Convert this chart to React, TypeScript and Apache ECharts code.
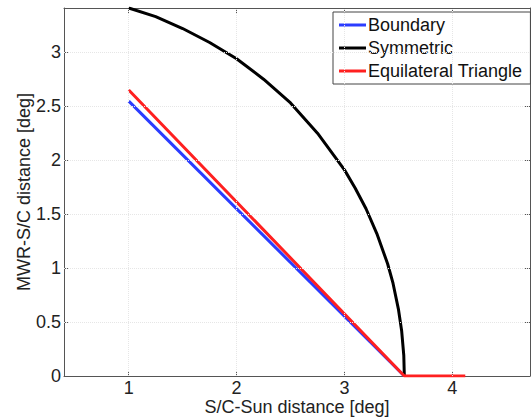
import React, { useEffect, useRef } from "react";
import * as echarts from "echarts";

const xTicks = [1, 2, 3, 4];
const yTicks = [0, 0.5, 1, 1.5, 2, 2.5, 3];

const boundaryX = [1, 3.555];
const boundaryY = [2.547, 0];

const symmetricX = [1.0, 1.25, 1.5, 1.75, 2.0, 2.25, 2.5, 2.75, 3.0, 3.1, 3.2, 3.3, 3.4, 3.45, 3.5, 3.53, 3.55, 3.555];
const symmetricY = [3.41, 3.33, 3.22, 3.09, 2.94, 2.75, 2.53, 2.25, 1.91, 1.74, 1.55, 1.32, 1.04, 0.86, 0.62, 0.42, 0.19, 0];

const triangleX = [1, 3.555, 4.12];
const triangleY = [2.65, 0, 0];

const FONT = "'Liberation Sans', Arial, sans-serif";

function zip(xs: number[], ys: number[]) {
  return xs.map((x, i) => [x, ys[i]]);
}

export default function App() {
  const ref = useRef<HTMLDivElement>(null);
  useEffect(() => {
    if (!ref.current) return;
    const chart = echarts.init(ref.current, undefined, { renderer: "svg" });
    const axisColor = "#555";
    const labelColor = "#222";
    const gridLine = { color: "#e6e6e6", type: "dotted" as const, width: 1 };
    chart.setOption({
      animation: false,
      backgroundColor: "#fff",
      grid: { left: 64, top: 8, right: 2, bottom: 44, outerBoundsMode: "none", containLabel: false },
      xAxis: [
        {
          type: "value",
          min: 0.4,
          max: 4.72,
          position: "bottom",
          name: "S/C-Sun distance [deg]",
          nameLocation: "middle",
          nameGap: 22,
          nameMoveOverlap: false,
          nameTextStyle: { fontFamily: FONT, fontSize: 18, color: labelColor, lineHeight: 18 },
          axisLine: { show: true, onZero: false, lineStyle: { color: axisColor, width: 1 } },
          axisTick: { show: true, inside: true, length: 5, customValues: xTicks, lineStyle: { color: axisColor } },
          axisLabel: { customValues: xTicks, fontFamily: FONT, fontSize: 18, color: labelColor, margin: 3, lineHeight: 18 },
          splitLine: { show: false },
        },
        {
          type: "value",
          min: 0.4,
          max: 4.72,
          position: "top",
          axisLine: { show: true, onZero: false, lineStyle: { color: axisColor, width: 1 } },
          axisTick: { show: true, inside: true, length: 5, customValues: xTicks, lineStyle: { color: axisColor } },
          axisLabel: { show: false },
          splitLine: { show: false },
        },
      ],
      yAxis: [
        {
          type: "value",
          min: 0,
          max: 3.41,
          position: "left",
          name: "MWR-S/C distance [deg]",
          nameLocation: "middle",
          nameGap: 31,
          nameMoveOverlap: false,
          nameTextStyle: { fontFamily: FONT, fontSize: 18, color: labelColor },
          axisLine: { show: true, onZero: false, lineStyle: { color: axisColor, width: 1 } },
          axisTick: { show: true, inside: true, length: 5, customValues: yTicks, lineStyle: { color: axisColor } },
          axisLabel: { customValues: yTicks, fontFamily: FONT, fontSize: 18, color: labelColor, margin: 3 },
          splitLine: { show: false },
        },
        {
          type: "value",
          min: 0,
          max: 3.41,
          position: "right",
          axisLine: { show: true, onZero: false, lineStyle: { color: axisColor, width: 1 } },
          axisTick: { show: true, inside: true, length: 5, customValues: yTicks, lineStyle: { color: axisColor } },
          axisLabel: { show: false },
          splitLine: { show: false },
        },
      ],
      legend: {
        data: ["Boundary", "Symmetric", "Equilateral Triangle"],
        orient: "vertical",
        left: 333,
        top: 12,
        padding: [3, 8, 3, 6],
        itemGap: 3,
        itemWidth: 27,
        itemHeight: 3,
        icon: "rect",
        borderColor: "#444",
        borderWidth: 1,
        backgroundColor: "#fff",
        textStyle: { fontFamily: FONT, fontSize: 18, color: "#111", padding: [0, 0, 0, -3], lineHeight: 20 },
      },
      series: [
        {
          name: "grid",
          type: "line",
          data: [],
          z: 1,
          silent: true,
          markLine: {
            silent: true,
            symbol: "none",
            label: { show: false },
            lineStyle: gridLine,
            data: [
              ...xTicks.map((v) => ({ xAxis: v })),
              ...yTicks.filter((v) => v > 0).map((v) => ({ yAxis: v })),
            ],
          },
        },
        {
          name: "Boundary",
          type: "line",
          data: zip(boundaryX, boundaryY),
          symbol: "none",
          color: "#2b3cff",
          lineStyle: { width: 3, color: "#2b3cff" },
          z: 3,
        },
        {
          name: "Symmetric",
          type: "line",
          data: zip(symmetricX, symmetricY),
          symbol: "none",
          color: "#000",
          lineStyle: { width: 3, color: "#000" },
          z: 3,
        },
        {
          name: "Equilateral Triangle",
          type: "line",
          data: zip(triangleX, triangleY),
          symbol: "none",
          color: "#ff2020",
          lineStyle: { width: 3, color: "#ff2020" },
          z: 4,
        },
      ],
    });
    return () => chart.dispose();
  }, []);
  return (
    <div
      ref={ref}
      style={{ position: "fixed", left: 0, top: 0, width: 532, height: 420, background: "#fff" }}
    />
  );
}
